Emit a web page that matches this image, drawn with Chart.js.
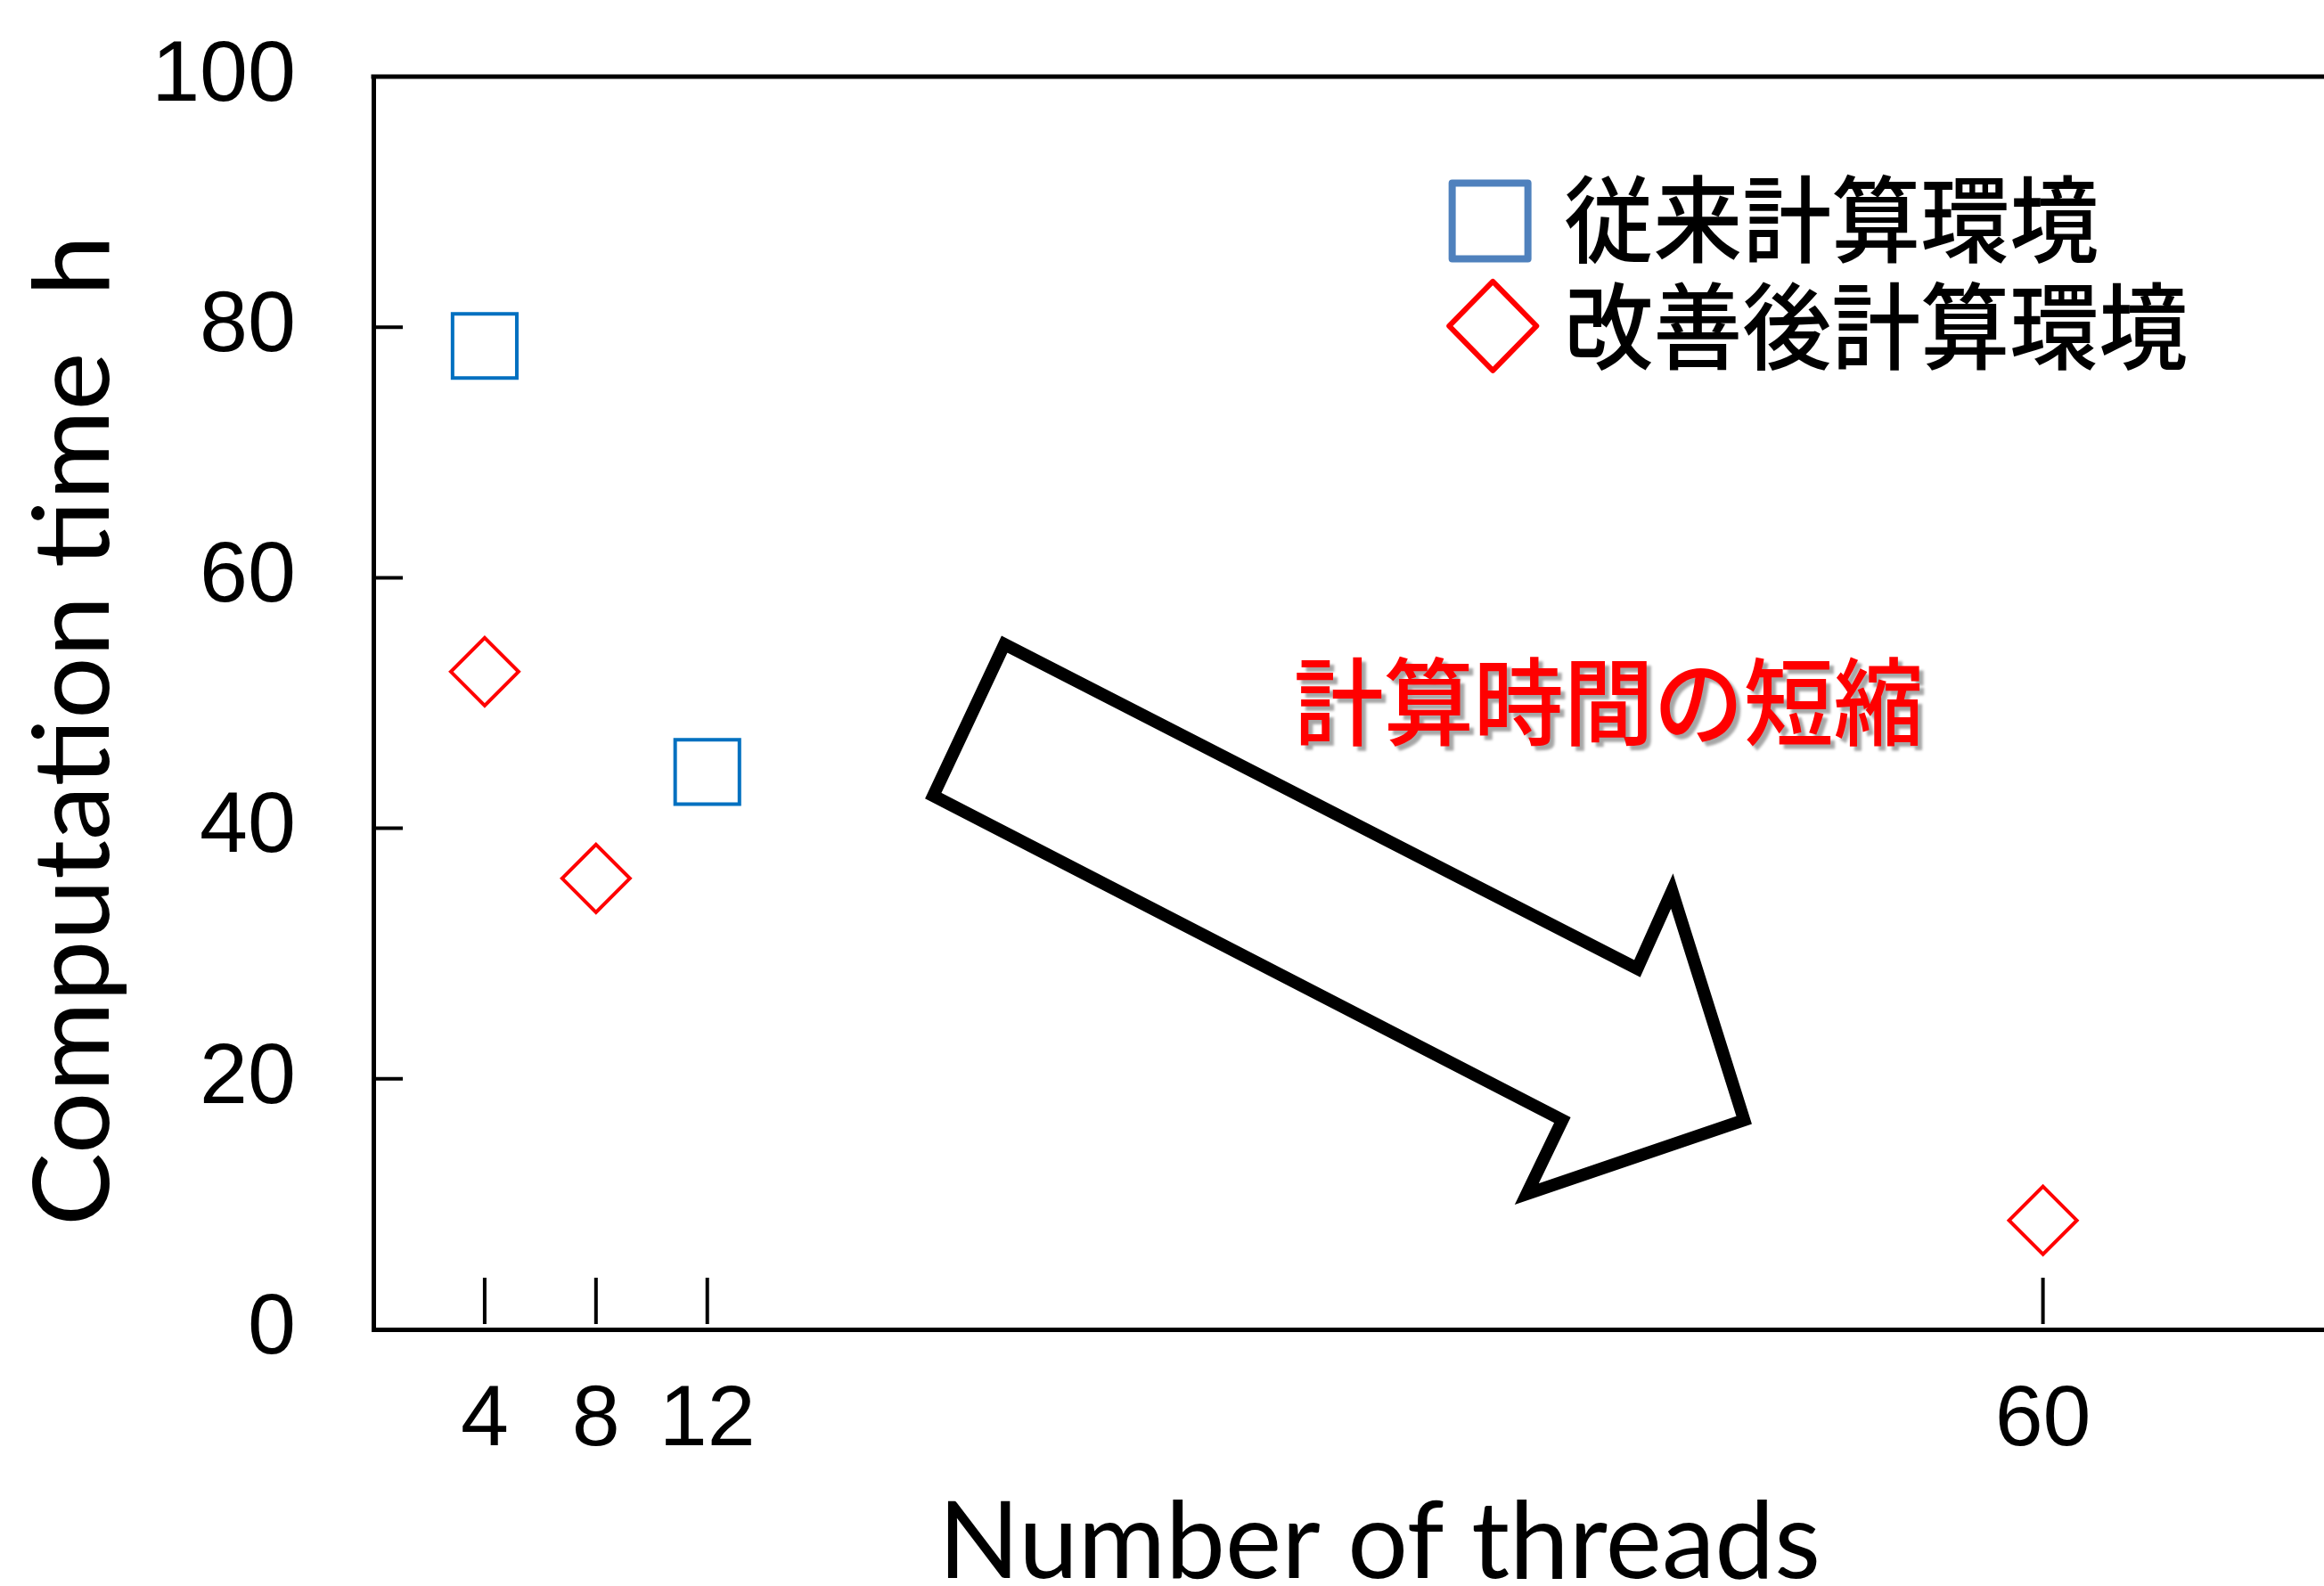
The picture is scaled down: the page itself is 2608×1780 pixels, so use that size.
<!DOCTYPE html>
<html><head><meta charset="utf-8">
<script src="https://cdn.jsdelivr.net/npm/chart.js@4.4.0/dist/chart.umd.min.js"></script>
<style>
html,body{margin:0;padding:0;overflow:hidden;background:#fff;width:2608px;height:1780px}
#wrap{position:relative;width:2608px;height:1780px}
</style>
</head><body><div id="wrap"><canvas id="c" width="2608" height="1780"></canvas></div>
<script>
// ---- data ----
const threadsConventional = [4, 12];
const hoursConventional = [78.5, 44.5];
const threadsImproved = [4, 8, 60];
const hoursImproved = [52.5, 36, 8.7];
const xTickValues = [4, 8, 12, 60];
const yTickValues = [0, 20, 40, 60, 80, 100];
const seriesNames = ['従来計算環境', '改善後計算環境'];
const xTitle = 'Number of threads';
const yTitle = 'Computation time  h';
const noteText = '計算時間の短縮';

const cjkFont = '"Noto Sans CJK JP Medium", "Noto Sans CJK JP", sans-serif';

function tallText(ctx, text, x, y, sy) {
  ctx.save(); ctx.translate(x, y); ctx.scale(1, sy); ctx.fillText(text, 0, 0); ctx.restore();
}

const decor = {
  id: 'decor',
  afterDraw(chart) {
    const {ctx, chartArea: a, scales: {x, y}} = chart;
    const P = (vx, vy) => [x.getPixelForValue(vx), y.getPixelForValue(vy)];
    ctx.save();
    // top frame line
    ctx.strokeStyle = '#000'; ctx.lineWidth = 5; ctx.lineCap = 'butt';
    ctx.beginPath(); ctx.moveTo(a.left - 2.5, a.top); ctx.lineTo(a.right, a.top); ctx.stroke();
    // inward ticks
    ctx.lineWidth = 4;
    yTickValues.forEach(v => {
      if (v === 0 || v === 100) return;
      const py = y.getPixelForValue(v);
      ctx.beginPath(); ctx.moveTo(a.left, py); ctx.lineTo(a.left + 33, py); ctx.stroke();
    });
    xTickValues.forEach(v => {
      const px = x.getPixelForValue(v);
      ctx.beginPath(); ctx.moveTo(px, a.bottom - 6); ctx.lineTo(px, a.bottom - 58); ctx.stroke();
    });

    // big outlined arrow (in data coordinates)
    const arrow = [[22.68,54.69],[20.12,42.60],[42.73,16.71],[41.45,10.81],[49.26,16.71],[46.67,34.99],[45.42,28.80]];
    ctx.beginPath();
    arrow.forEach((pt, i) => { const [px, py] = P(pt[0], pt[1]); i ? ctx.lineTo(px, py) : ctx.moveTo(px, py); });
    ctx.closePath();
    ctx.fillStyle = '#fff'; ctx.fill();
    ctx.lineWidth = 14; ctx.lineJoin = 'miter'; ctx.miterLimit = 10; ctx.strokeStyle = '#000'; ctx.stroke();

    // annotation text with shadow
    {
      const [tx, ty] = P(44.39, 50.14);
      ctx.font = '500 101px ' + cjkFont;
      ctx.textAlign = 'center'; ctx.textBaseline = 'middle';
      ctx.save();
      ctx.shadowColor = 'rgba(0,0,0,0.35)'; ctx.shadowOffsetX = 5; ctx.shadowOffsetY = 5; ctx.shadowBlur = 3;
      ctx.fillStyle = '#FF0000';
      tallText(ctx, noteText, tx, ty, 1.06);
      ctx.restore();
    }

    // legend
    {
      const [sx, sy] = P(40.13, 88.48);
      ctx.lineWidth = 8; ctx.strokeStyle = '#4F81BD'; ctx.lineJoin = 'round';
      ctx.strokeRect(sx - 42.5, sy - 42.5, 85, 85);
      const [dx, dy] = P(40.23, 80.09);
      ctx.lineWidth = 6; ctx.strokeStyle = '#FF0000'; ctx.lineJoin = 'round';
      ctx.beginPath(); ctx.moveTo(dx, dy - 50); ctx.lineTo(dx + 49, dy); ctx.lineTo(dx, dy + 50); ctx.lineTo(dx - 49, dy); ctx.closePath(); ctx.stroke();
      ctx.fillStyle = '#000'; ctx.font = '500 100px ' + cjkFont;
      ctx.textAlign = 'left'; ctx.textBaseline = 'middle';
      const [lx] = P(42.79, 0);
      tallText(ctx, seriesNames[0], lx, y.getPixelForValue(88.62), 1.06);
      tallText(ctx, seriesNames[1], lx, y.getPixelForValue(80.09), 1.06);
    }

    // axis titles
    ctx.fillStyle = '#000';
    ctx.font = '120px Lato';
    ctx.textAlign = 'center'; ctx.textBaseline = 'alphabetic';
    {
      const w = ctx.measureText(xTitle).width;
      ctx.save(); ctx.translate(1548, 1771); ctx.scale(990 / w, 1);
      ctx.fillText(xTitle, 0, 0); ctx.restore();
    }
    {
      ctx.font = '119px Lato';
      const w = ctx.measureText(yTitle).width;
      ctx.save(); ctx.translate(122, 820); ctx.rotate(-Math.PI / 2); ctx.scale(1112 / w, 1);
      ctx.fillText(yTitle, 0, 0); ctx.restore();
    }
    ctx.restore();
  }
};

const tickFont = {family: '"Liberation Sans", Arial, sans-serif', size: 97};

new Chart(document.getElementById('c'), {
  type: 'scatter',
  data: {
    datasets: [
      {
        label: seriesNames[0],
        data: threadsConventional.map((t, i) => ({x: t, y: hoursConventional[i]})),
        pointStyle: 'rect', pointRadius: 51, pointBorderWidth: 4,
        pointBorderColor: '#0070C0', pointBackgroundColor: 'rgba(0,0,0,0)', showLine: false
      },
      {
        label: seriesNames[1],
        data: threadsImproved.map((t, i) => ({x: t, y: hoursImproved[i]})),
        pointStyle: 'rectRot', pointRadius: 38, pointBorderWidth: 4,
        pointBorderColor: '#FF0000', pointBackgroundColor: 'rgba(0,0,0,0)', showLine: false
      }
    ]
  },
  options: {
    responsive: false, animation: false, events: [],
    layout: {autoPadding: false, padding: {top: 86, left: 0, right: 0, bottom: 0}},
    plugins: {legend: {display: false}, tooltip: {enabled: false}},
    scales: {
      x: {
        type: 'linear', min: 0, max: 70.1,
        afterBuildTicks: s => { s.ticks = xTickValues.map(v => ({value: v})); },
        ticks: {font: tickFont, color: '#000', padding: 45, maxRotation: 0, autoSkip: false},
        grid: {display: false, drawTicks: false},
        border: {display: true, color: '#000', width: 5},
        afterFit: s => { s.height = 288; s.paddingLeft = 0; s.paddingRight = 0; }
      },
      y: {
        type: 'linear', min: 0, max: 100,
        afterBuildTicks: s => { s.ticks = yTickValues.map(v => ({value: v})); },
        ticks: {font: tickFont, color: '#000', padding: 87, autoSkip: false},
        grid: {display: false, drawTicks: false},
        border: {display: true, color: '#000', width: 5},
        afterFit: s => { s.width = 419; s.paddingTop = 0; s.paddingBottom = 0; }
      }
    }
  },
  plugins: [decor]
});
</script>
</body></html>
